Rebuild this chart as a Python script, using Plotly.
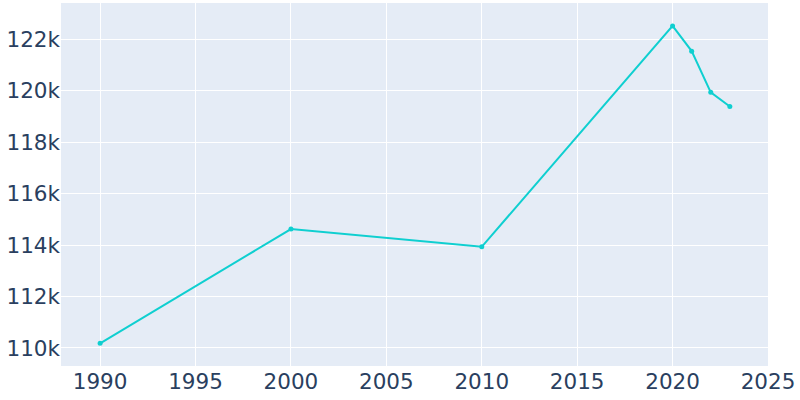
import plotly.graph_objects as go

# population by year
years = [1990, 2000, 2010, 2020, 2021, 2022, 2023]
population = [110180, 114620, 113930, 122510, 121530, 119930, 119380]

fig = go.Figure([go.Scatter(
    x=years, y=population,
    mode="lines+markers",
    line=dict(color="#0fcfd0", width=2),
    marker=dict(size=5, color="#0fcfd0"),
)])

fig.update_layout(
    template="plotly",
    width=800, height=400,
    margin=dict(l=61, r=32, t=3, b=34),
    font=dict(family="DejaVu Sans", size=18, color="#2a3f5f"),
    showlegend=False,
)
fig.update_xaxes(range=[1987.95, 2025], dtick=5, tickformat="d",
                 tickfont=dict(size=21.5))
fig.update_yaxes(range=[109300, 123400], dtick=2000, tickformat="~s",
                 tickfont=dict(size=21.5))

fig.write_html("out.html", config={"displayModeBar": False},
               post_script="document.body.style.margin='0';")
